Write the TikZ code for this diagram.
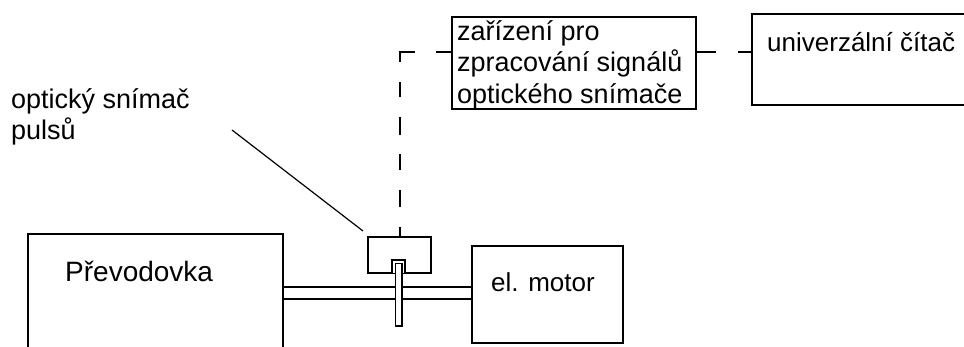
\documentclass[tikz,border=0pt]{standalone}
\usepackage{fontspec}
\setmainfont{Liberation Sans}
\tikzset{
	blok/.style={draw, line width=1.7pt, inner sep=0pt, anchor=north west},
	popis/.style={inner sep=0pt, anchor=base west, align=left, font=\fontsize{26}{31.5}\selectfont},
	vetsi/.style={popis, font=\fontsize{27}{31.5}\selectfont},
	hrana/.style={line width=1.2pt},
	carkovane/.style={line width=1.3pt}
}
\begin{document}
\begin{tikzpicture}[x=1pt, y=-1pt]
		\useasboundingbox (0,0) rectangle (964,347);
		\clip (0,0) rectangle (964,347);
		\node[blok, minimum width=255pt, minimum height=130pt] (prevodovka) at (27,233) {};
		\node[blok, minimum width=151pt, minimum height=97pt] (motor) at (471,245) {};
		\node[blok, minimum width=244pt, minimum height=92pt] (zarizeni) at (451,16) {};
		\node[blok, minimum width=230pt, minimum height=91pt] (citac) at (751,13) {};
		\node[blok, minimum width=63pt, minimum height=36pt] (snimac) at (367,236) {};
		\node[vetsi, font=\fontsize{28}{31.5}\selectfont] (tprevodovka) at (65,282) {Převodovka};
		\node[popis] (tmotor) at (491,292) {el. motor};
		\node[popis] (tcitac) at (767,52) {univerzální čítač};
		\node[vetsi, anchor=north west] (tzarizeni) at (457,20) {zařízení pro\\zpracování signálů\\optického snímače};
		\node[vetsi, anchor=north west] (tsnimac) at (11,88) {optický snímač\\pulsů};
		\coordinate (roh) at (400,52);
		\coordinate (zacatek) at (232,130);
		\coordinate (konec) at (363,231);
		% hridel
		\draw[hrana] (282,287) -- (471,287);
		\draw[hrana] (282,299) -- (471,299);
		% vyrez a kotouc
		\draw[blok, fill=white] (392,273) -- (392,260) -- (405,260) -- (405,273);
		\draw[hrana, fill=white] (395.5,263.5) rectangle (402,326);
		% spoje
		\draw[hrana] (zacatek) -- (konec);
		\draw[carkovane, dash pattern=on 9pt off 20pt on 17pt off 20pt on 16pt off 19pt on 18pt off 20pt on 15pt off 20pt on 25pt off 21pt on 15pt] (snimac.north -| roh) -- (roh) -- (zarizeni.west |- roh);
		\draw[carkovane, dash pattern=on 19pt off 22pt on 15pt] (zarizeni.east |- roh) -- (citac.west |- roh);
	\end{tikzpicture}
\end{document}
